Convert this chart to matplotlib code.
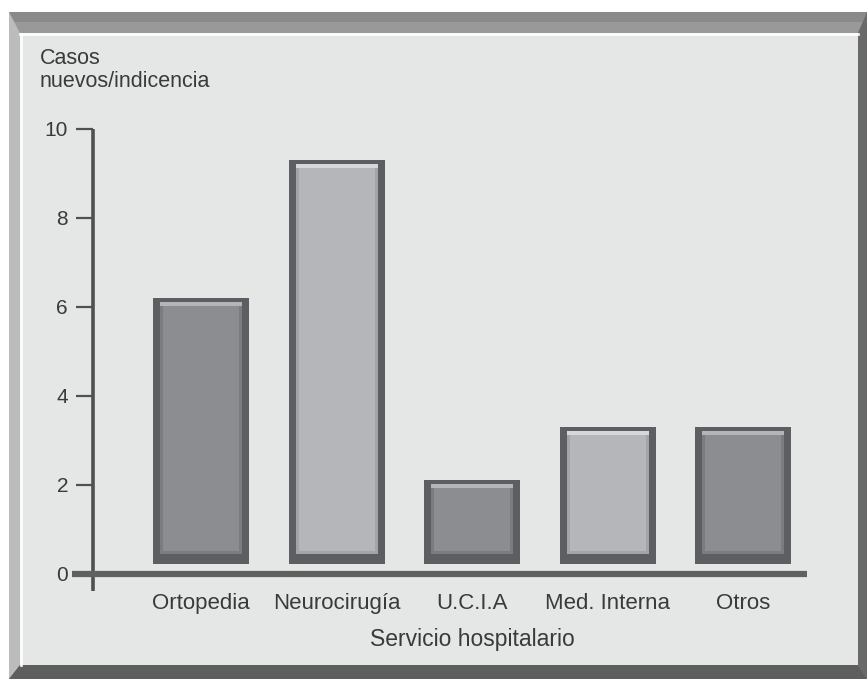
import matplotlib
matplotlib.use("Agg")
import matplotlib.pyplot as plt
from matplotlib.patches import Polygon
from matplotlib.lines import Line2D
import numpy as np

# ---- data ----
categories = ["Ortopedia", "Neurocirugía", "U.C.I.A", "Med. Interna", "Otros"]
values = [6.2, 9.3, 2.1, 3.3, 3.3]
yticks = [0, 2, 4, 6, 8, 10]
ylabel = "Casos\nnuevos/indicencia"
xlabel = "Servicio hospitalario"

# ---- styles ----
face_colors = ["#8c8d90", "#b5b6b9", "#8c8d90", "#b5b6b9", "#8c8d90"]
hl_colors = ["#b4b5b7", "#d6d7d8", "#b4b5b7", "#d6d7d8", "#b4b5b7"]
side_colors = ["#7b7c7f", "#a3a4a7", "#7b7c7f", "#a3a4a7", "#7b7c7f"]
edge_dark = "#5d5e61"
panel_bg = "#e5e6e6"
text_col = "#3a3a3a"
plt.rcParams['font.family'] = ['Liberation Sans', 'DejaVu Sans']

W, H = 867, 679
fig = plt.figure(figsize=(W / 100, H / 100), dpi=100)
fig.patch.set_facecolor("white")

def P(x, y):
    return (x / W, 1 - y / H)

def poly(pts, color, z=0):
    fig.add_artist(Polygon([P(*p) for p in pts], closed=True, facecolor=color,
                           edgecolor="none", transform=fig.transFigure, zorder=z))

# frame
poly([(9, 12), (867, 12), (867, 679), (9, 679)], "#8e8e8e")
poly([(9, 12), (867, 12), (858, 33), (20, 33)], "#999999")
poly([(9, 12), (867, 12), (862, 22), (14, 22)], "#8a8a8a")
poly([(9, 12), (20, 33), (20, 665), (9, 679)], "#bcbcbc")
poly([(867, 12), (867, 679), (858, 665), (858, 33)], "#6a6a6a")
poly([(9, 679), (867, 679), (858, 665), (20, 665)], "#5e5e5e")
poly([(20, 33), (858, 33), (858, 665), (20, 665)], panel_bg)
fig.add_artist(Line2D([P(20, 34)[0], P(858, 34)[0]], [P(20, 34)[1], P(858, 34)[1]],
                      color="white", lw=2, transform=fig.transFigure, alpha=0.9))
fig.add_artist(Line2D([P(21, 34)[0], P(21, 665)[0]], [P(21, 34)[1], P(21, 665)[1]],
                      color="white", lw=2, transform=fig.transFigure, alpha=0.9))

# axes geometry (pixels)
ax_l, ax_r = 93, 807
y0_px, y10_px = 573.6, 129.0
ax = fig.add_axes([ax_l / W, 1 - y0_px / H, (ax_r - ax_l) / W, (y0_px - y10_px) / H])
ax.set_facecolor("none")
x = np.arange(len(categories))
ax.set_xlim(-0.796, 4.469)
ax.set_ylim(0, 10)

pxx = (ax_r - ax_l) / (4.469 + 0.796)
pxy = (y0_px - y10_px) / 10.0

bw = 96 / pxx
side = 7 / pxx
top_dark = 4 / pxy
top_hl = 4 / pxy
bot_dark = 10 / pxy
b0 = 0.22

vals = np.array(values)
# outer dark bevel
ax.bar(x, vals - b0, bottom=b0, width=bw, color=edge_dark, zorder=3)
# inner slightly lighter ring
ax.bar(x, (vals - top_dark) - (b0 + bot_dark), bottom=b0 + bot_dark, width=bw - 2 * side,
       color=side_colors, zorder=4)
# face
ax.bar(x, (vals - top_dark) - (b0 + bot_dark + 3 / pxy), bottom=b0 + bot_dark + 3 / pxy,
       width=bw - 2 * side - 6 / pxx, color=face_colors, zorder=4)
# top highlight
ax.bar(x, top_hl, bottom=vals - top_dark - top_hl, width=bw - 2 * side,
       color=hl_colors, zorder=5)

for s in ax.spines.values():
    s.set_visible(False)

# axis lines
ax.plot([-0.796, -0.796], [-17 / pxy, 10], color="#505050", lw=2.6, clip_on=False,
        zorder=6, solid_capstyle="butt")
ax.plot([-0.796 - 21 / pxx, 4.469], [0, 0], color="#606060", lw=4.5, clip_on=False,
        zorder=6, solid_capstyle="butt")

ax.set_yticks(yticks)
ax.set_yticklabels([str(t) for t in yticks])
ax.tick_params(axis="y", length=12, width=1.6, color="#505050", pad=6,
               labelsize=15, labelcolor=text_col)
ax.set_xticks(x)
ax.set_xticklabels(categories)
ax.tick_params(axis="x", length=0, pad=14, labelsize=16, labelcolor=text_col)

ax.set_xlabel(xlabel, fontsize=16.5, color=text_col, va="top")
ax.xaxis.set_label_coords((2 + 0.796) / (4.469 + 0.796), (y0_px - 628) / (y0_px - y10_px))
ax.set_ylabel(ylabel, rotation=0, fontsize=15.5, color=text_col, ha="left", va="top",
              linespacing=1.1)
ax.yaxis.set_label_coords((40 - ax_l) / (ax_r - ax_l), (y0_px - 48) / (y0_px - y10_px))

fig.savefig("out.png", dpi=100)
